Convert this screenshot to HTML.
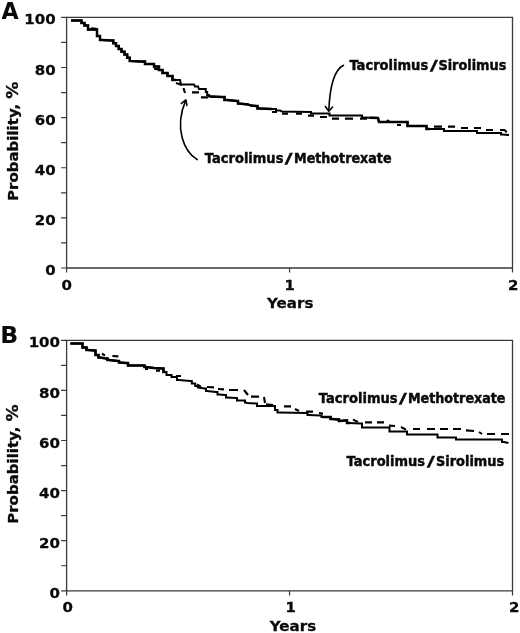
<!DOCTYPE html>
<html lang="en">
<head>
<meta charset="utf-8">
<title>Figure</title>
<style>
html,body{margin:0;padding:0;background:#fff;}
body{width:520px;height:633px;overflow:hidden;}
svg{display:block;}
text{font-family:"DejaVu Sans", "Liberation Sans", sans-serif;font-weight:bold;fill:#0a0a0a;stroke:#0a0a0a;stroke-width:0.3px;}
.pl{font-size:23.6px;stroke-width:0;}
.tl{font-size:14.6px;}
.lb{font-size:13.2px;stroke-width:0.45px;}
.ax{fill:none;stroke:#3a3a3a;stroke-width:1.3;}
.tk{fill:none;stroke:#3a3a3a;stroke-width:1.2;}
.cv{fill:none;stroke:#000;stroke-width:2;stroke-linejoin:miter;stroke-linecap:butt;}
.ds{fill:none;stroke:#000;stroke-width:2.1;stroke-linecap:butt;}
.cw{fill:none;stroke:#000;stroke-width:2.5;stroke-linejoin:miter;stroke-linecap:butt;}
.ar{fill:none;stroke:#000;stroke-width:1.6;stroke-linecap:round;stroke-linejoin:round;}
</style>
</head>
<body>
<svg width="520" height="633" viewBox="0 0 520 633">
<rect width="520" height="633" fill="#fff"/>
<path class="ax" d="M66.6,17.4 H512.5 V268 H66.6 Z"/>
<path class="tk" d="M61.1,268.00 H66.6 M61.1,242.94 H66.6 M61.1,217.88 H66.6 M61.1,192.82 H66.6 M61.1,167.76 H66.6 M61.1,142.70 H66.6 M61.1,117.64 H66.6 M61.1,92.58 H66.6 M61.1,67.52 H66.6 M61.1,42.46 H66.6 M61.1,17.40 H66.6 M66.60,268 V272.6 M289.55,268 V272.6 M512.50,268 V272.6"/>
<path class="cv" d="M71,20.4 L80,20.4 L81.5,20.4 L81.5,23 L83,23 L84.5,23 L84.5,25.6 L86,25.6 L88,25.6 L88,29.4 L90,29.4 L96,29.4 L97,29.4 L97,36 L98,36 L100,36 L100,40 L102,40 L112,40.4 L113.3,40.4 L113.3,43.3 L114.7,43.3 L116,43.3 L116,46.1 L117.3,46.1 L118.7,46.1 L118.7,49 L120,49 L121.5,49 L121.5,51.7 L123,51.7 L124.5,51.7 L124.5,54.4 L126,54.4 L127.2,54.4 L127.2,57.7 L128.5,57.7 L129.8,57.7 L129.8,61 L131,61 L140,61.6 L145,61.6 L145,64 L150,64 L154,64 L154,66.6 L158,66.6 L159,66.6 L159,70 L160,70 L162.5,70 L162.5,73 L165,73 L167.5,73 L167.5,76 L170,76 L172.5,76 L172.5,80 L175,80 L180,80 L181,84.4 L194,84.4 L195,86.4 L198,86.4 L199,89 L205,89 L205.8,89 L205.8,92 L206.5,92 L207.2,92 L207.2,95 L208,95 L209,95 L209,96.4 L210,96.4 L222,97 L224.5,97 L224.5,100 L227,100 L237,101 L238,101 L238,103.6 L239,103.6 L248,104.4 L251,105.6 L256,106 L257.5,106 L257.5,108.4 L259,108.4 L272,109 L276,109 L276,110.4 L280,110.4 L282,111.6 L310,112 L311,112 L311,113.6 L312,113.6 L328,113.6 L329.5,113.6 L329.5,115.6 L331,115.6 L361,115.6 L362,115.6 L362,117.6 L363,117.6 L378,118 L379,122 L406,122 L407.5,122 L407.5,126 L409,126 L424,126 L426.5,126 L426.5,129 L429,129 L443,129 L444,129 L444,131 L445,131 L476,131 L477,131 L477,133 L478,133 L500,133 L501,133 L501,134.4 L502,134.4 L509,135"/>
<path class="cw" d="M71,20.4 L80,20.4 L81.5,20.4 L81.5,23 L83,23 L84.5,23 L84.5,25.6 L86,25.6 L88,25.6 L88,29.4 L90,29.4 L96,29.4 L97,29.4 L97,36 L98,36 L100,36 L100,40 L102,40 L112,40.4 L113.3,40.4 L113.3,43.3 L114.7,43.3 L116,43.3 L116,46.1 L117.3,46.1 L118.7,46.1 L118.7,49 L120,49 L121.5,49 L121.5,51.7 L123,51.7 L124.5,51.7 L124.5,54.4 L126,54.4 L127.2,54.4 L127.2,57.7 L128.5,57.7 L129.8,57.7 L129.8,61 L131,61 L140,61.6 L145,61.6 L145,64 L150,64 L154,64 L154,66.6 L158,66.6 L159,66.6 L159,70 L160,70 L162.5,70 L162.5,73 L165,73 L167.5,73 L167.5,76 L170,76 L172.5,76 L172.5,80 L175,80 L176,80"/>
<path class="cw" d="M210,96.4 L222,97 L224.5,97 L224.5,100 L227,100 L237,101 L238,101 L238,103.6 L239,103.6 L248,104.4 L251,105.6 L256,106 L257.5,106 L257.5,108.4 L259,108.4 L272,109"/>
<path class="cw" d="M370,117.8 L378,118 L379,122 L406,122 L407.5,122 L407.5,126 L409,126 L424,126 L426.5,126 L426.5,129 L429,129 L430,129"/>
<path class="ds" d="M91,28.4 L96.5,28.8 M154,68.8 L159,69.4 M176,83 L182,85 M183.5,88 L185,93 M192,92.4 L199,92.4 M201,97.4 L208,97.4 M272,112 L277,112 M282,113.6 L288,113.6 M296,113.6 L302,113.6 M308,115.6 L314,115.6 M320,117 L327,117 M332,118.6 L339,118.6 M345,118.6 L353,118.6 M360,118.6 L367,118.6 M387,120 L390,122 M397,125 L401,125 M434,126.6 L442,126.6 M448,126.6 L455,126.6 M461,128 L468,128 M474,128 L481,128 M486,130 L493,130 M500,130 L505,130 M505,130 L506.5,132.6"/>
<path class="ar" d="M343.5,65.3 C336,69 330,82 328.8,110.5"/>
<path class="ar" d="M325.4,106.6 L328.8,111.2 L332.6,107"/>
<path class="ar" d="M197.3,159.6 C184,152 174,128 185.6,100.6"/>
<path class="ar" d="M181.4,103.4 L185.9,99.9 L186.9,105.4"/>
<path class="ax" d="M66.6,340.3 H512.5 V590.8 H66.6 Z"/>
<path class="tk" d="M61.1,590.80 H66.6 M61.1,565.75 H66.6 M61.1,540.70 H66.6 M61.1,515.65 H66.6 M61.1,490.60 H66.6 M61.1,465.55 H66.6 M61.1,440.50 H66.6 M61.1,415.45 H66.6 M61.1,390.40 H66.6 M61.1,365.35 H66.6 M61.1,340.30 H66.6 M66.60,590.8 V595.4 M289.55,590.8 V595.4 M512.50,590.8 V595.4"/>
<path class="cv" d="M70.4,343.4 L80,343.4 L82.5,343.4 L82.5,347.6 L85,347.6 L86.5,347.6 L86.5,350 L88,350 L94,350.6 L95.5,350.6 L95.5,355 L97,355 L98.5,355 L98.5,357.6 L100,357.6 L106,358.4 L107.5,358.4 L107.5,360 L109,360 L118,361 L119,361 L119,362.6 L120,362.6 L126,363 L128,363 L128,365.6 L130,365.6 L143,365.6 L144.5,365.6 L144.5,367 L146,367 L154,368 L162,368.6 L163.5,368.6 L163.5,372 L165,372 L166.5,372 L166.5,375 L168,375 L171.5,375 L171.5,377 L175,377 L177,377 L177,380 L179,380 L190,381 L191.8,381 L191.8,383.5 L193.5,383.5 L195.2,383.5 L195.2,386 L197,386 L198,387.6 L205,388.4 L206,388.4 L206,391 L207,391 L216,392 L217.5,392 L217.5,394.4 L219,394.4 L225,395 L226,395 L226,397.6 L227,397.6 L236,398 L237,398 L237,400.4 L238,400.4 L244,400.4 L245,400.4 L245,402.4 L246,402.4 L247,403 L256,403.4 L257,403.4 L257,406 L258,406 L274,406 L275,406 L275,410 L276,410 L277.5,410 L277.5,412.6 L279,412.6 L306,413 L307.5,413 L307.5,415 L309,415 L320,415.6 L321.5,415.6 L321.5,417 L323,417 L329,417 L330.5,417 L330.5,419 L332,419 L338,419.6 L339,419.6 L339,421 L340,421 L345,420.6 L347,420.6 L347,423 L349,423 L360,423.6 L362,423.6 L362,427.4 L364,427.4 L387,427.4 L389.5,427.4 L389.5,431.4 L392,431.4 L405,431.4 L407,431.4 L407,434.4 L409,434.4 L436,434.4 L437.5,434.4 L437.5,437.6 L439,437.6 L455,437.6 L456,437.6 L456,439.4 L457,439.4 L500,439.4 L502,439.4 L502,442 L504,442 L508.4,443"/>
<path class="cw" d="M70.4,343.4 L80,343.4 L82.5,343.4 L82.5,347.6 L85,347.6 L86.5,347.6 L86.5,350 L88,350 L94,350.6 L95.5,350.6 L95.5,355 L97,355 L98.5,355 L98.5,357.6 L100,357.6 L106,358.4 L107.5,358.4 L107.5,360 L109,360 L118,361 L119,361 L119,362.6 L120,362.6 L126,363 L128,363 L128,365.6 L130,365.6 L143,365.6 L144.5,365.6 L144.5,367 L146,367 L154,368 L162,368.6 L163.5,368.6 L163.5,372 L165,372"/>
<path class="cw" d="M323,417 L329,417 L330.5,417 L330.5,419 L332,419 L338,419.6 L339,419.6 L339,421 L340,421 L345,420.6 L347,420.6 L347,423 L349,423 L350,423.1"/>
<path class="ds" d="M102,353.6 L105,355.6 M112.4,356 L118.4,356.4 M145,369 L148,369 M156,370.6 L160,370.6 M176,376 L181,376 M197,384.4 L201,387 M207,387 L214,387.4 M218,389 L224,389.4 M229,390 L238,390 M244,390 L248,395 M251,396.6 L259,396.6 M264,397 L265,403 M266,404.4 L273,405 M284,406.4 L291,406.4 M295,409 L299,411 M306,411.6 L313,411.6 M319,413 L323,413.6 M353,419.6 L358,422 M365,422.4 L372,422.4 M377,422.4 L384,422.4 M389,425.6 L395,426 M401,427 L406,429.6 M413,429 L420,429 M427,429 L435,429 M440,429 L448,429 M453,429 L461,429 M466,430.4 L474,431 M479,432 L482,434 M487,434 L495,434 M501,434 L509,434"/>
<text class="pl" x="1.5" y="18.7" textLength="17.2" lengthAdjust="spacingAndGlyphs">A</text>
<text class="pl" x="0.3" y="342.5">B</text>
<text class="tl" x="55.6" y="275.0" text-anchor="end" textLength="10.4" lengthAdjust="spacingAndGlyphs">0</text>
<text class="tl" x="55.6" y="224.9" text-anchor="end" textLength="20.9" lengthAdjust="spacingAndGlyphs">20</text>
<text class="tl" x="55.6" y="174.8" text-anchor="end" textLength="20.9" lengthAdjust="spacingAndGlyphs">40</text>
<text class="tl" x="55.6" y="124.6" text-anchor="end" textLength="20.9" lengthAdjust="spacingAndGlyphs">60</text>
<text class="tl" x="55.6" y="74.5" text-anchor="end" textLength="20.9" lengthAdjust="spacingAndGlyphs">80</text>
<text class="tl" x="55.6" y="24.4" text-anchor="end" textLength="31.3" lengthAdjust="spacingAndGlyphs">100</text>
<text class="tl" x="60.0" y="597.9" text-anchor="end" textLength="10.4" lengthAdjust="spacingAndGlyphs">0</text>
<text class="tl" x="60.0" y="547.8" text-anchor="end" textLength="20.9" lengthAdjust="spacingAndGlyphs">20</text>
<text class="tl" x="60.0" y="497.7" text-anchor="end" textLength="20.9" lengthAdjust="spacingAndGlyphs">40</text>
<text class="tl" x="60.0" y="447.6" text-anchor="end" textLength="20.9" lengthAdjust="spacingAndGlyphs">60</text>
<text class="tl" x="60.0" y="397.5" text-anchor="end" textLength="20.9" lengthAdjust="spacingAndGlyphs">80</text>
<text class="tl" x="60.0" y="347.4" text-anchor="end" textLength="31.3" lengthAdjust="spacingAndGlyphs">100</text>
<text class="tl" x="66.8" y="289.7" text-anchor="middle" textLength="10.4" lengthAdjust="spacingAndGlyphs">0</text>
<text class="tl" x="289.8" y="289.7" text-anchor="middle" textLength="10.4" lengthAdjust="spacingAndGlyphs">1</text>
<text class="tl" x="513.3" y="289.7" text-anchor="middle" textLength="10.4" lengthAdjust="spacingAndGlyphs">2</text>
<text class="tl" x="67.6" y="612.1" text-anchor="middle" textLength="10.4" lengthAdjust="spacingAndGlyphs">0</text>
<text class="tl" x="290.6" y="612.1" text-anchor="middle" textLength="10.4" lengthAdjust="spacingAndGlyphs">1</text>
<text class="tl" x="514.1" y="612.1" text-anchor="middle" textLength="10.4" lengthAdjust="spacingAndGlyphs">2</text>
<text class="tl" x="290.2" y="308" text-anchor="middle" textLength="46.3" lengthAdjust="spacingAndGlyphs">Years</text>
<text class="tl" x="293" y="630.8" text-anchor="middle" textLength="46.3" lengthAdjust="spacingAndGlyphs">Years</text>
<text class="tl" textLength="97.2" lengthAdjust="spacingAndGlyphs" transform="translate(17.8,201.0) rotate(-90)">Probability,</text>
<text class="tl" style="font-size:15px" textLength="17.1" lengthAdjust="spacingAndGlyphs" transform="translate(18.1,98.75) rotate(-90)">%</text>
<text class="tl" textLength="97.2" lengthAdjust="spacingAndGlyphs" transform="translate(17.8,523.8) rotate(-90)">Probability,</text>
<text class="tl" style="font-size:15px" textLength="17.1" lengthAdjust="spacingAndGlyphs" transform="translate(18.1,421.55) rotate(-90)">%</text>
<text class="lb" x="349.4" y="70.2" textLength="78.8" lengthAdjust="spacingAndGlyphs">Tacrolimus</text>
<text class="lb" transform="translate(429.9,70.2) scale(1.6,1)">/</text>
<text class="lb" x="438.4" y="70.2" textLength="68.0" lengthAdjust="spacingAndGlyphs">Sirolimus</text>
<text class="lb" x="204.8" y="162.5" textLength="78.6" lengthAdjust="spacingAndGlyphs">Tacrolimus</text>
<text class="lb" transform="translate(284.7,162.5) scale(1.6,1)">/</text>
<text class="lb" x="294.0" y="162.5" textLength="97.5" lengthAdjust="spacingAndGlyphs">Methotrexate</text>
<text class="lb" x="318.8" y="403.0" textLength="78.8" lengthAdjust="spacingAndGlyphs">Tacrolimus</text>
<text class="lb" transform="translate(399.1,403.0) scale(1.6,1)">/</text>
<text class="lb" x="407.9" y="403.0" textLength="97.6" lengthAdjust="spacingAndGlyphs">Methotrexate</text>
<text class="lb" x="346.6" y="466.3" textLength="78.4" lengthAdjust="spacingAndGlyphs">Tacrolimus</text>
<text class="lb" transform="translate(427.0,466.3) scale(1.6,1)">/</text>
<text class="lb" x="436.0" y="466.3" textLength="68.2" lengthAdjust="spacingAndGlyphs">Sirolimus</text>
</svg>
</body>
</html>
